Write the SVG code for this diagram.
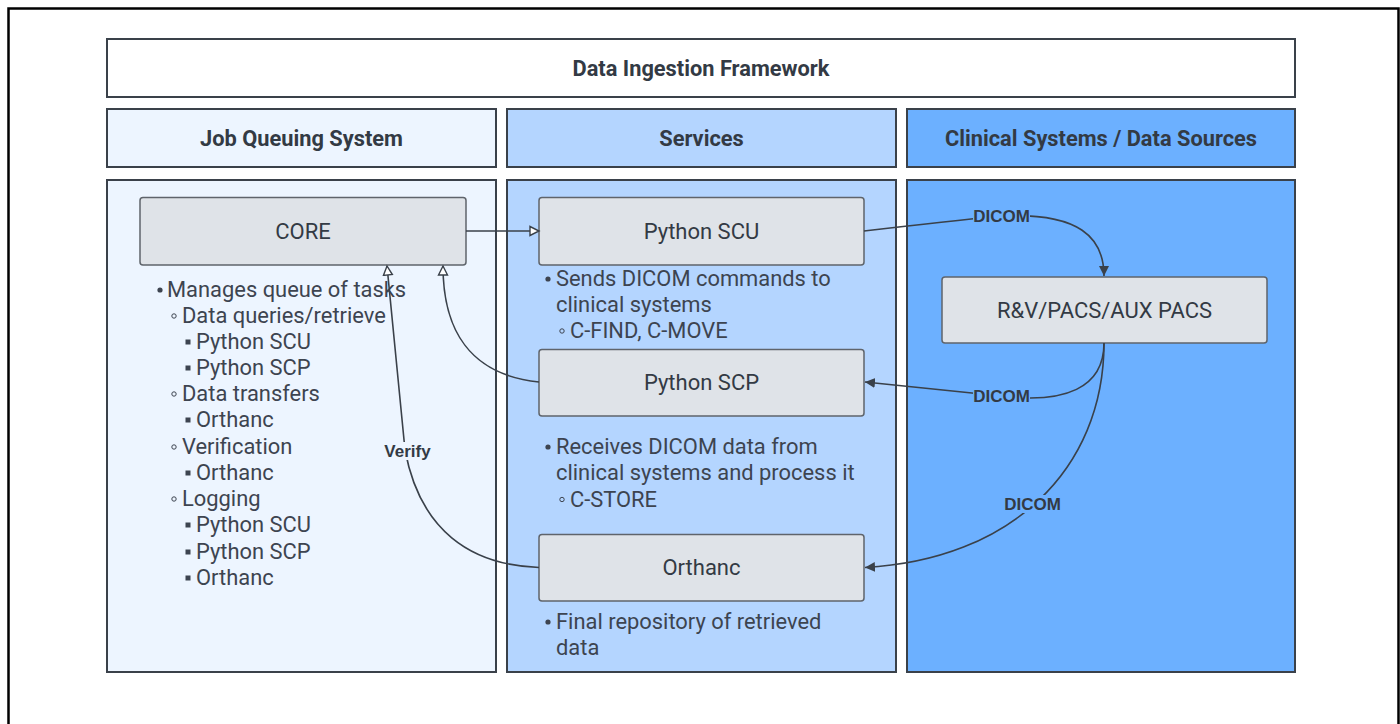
<svg xmlns="http://www.w3.org/2000/svg" width="1400" height="724" viewBox="0 0 1400 724">
<defs>
<style>
.hdr{font-family:Roboto,"Liberation Sans",sans-serif;font-weight:bold;font-size:21.8px;fill:#333a44;text-anchor:middle;dominant-baseline:central}
.lbl{font-family:Roboto,"Liberation Sans",sans-serif;font-size:22px;fill:#333a44;text-anchor:middle;dominant-baseline:central}
.txt{font-family:Roboto,"Liberation Sans",sans-serif;font-size:21.9px;fill:#3d4450}
.elb{font-family:"Liberation Sans",Arial,sans-serif;font-weight:bold;font-size:17px;fill:#333a44;text-anchor:middle;dominant-baseline:central}
.node{fill:#dfe3e8;stroke:#5f646b;stroke-width:1.5}
.col{stroke:#3a414a;stroke-width:2}
.edge{fill:none;stroke:#3a414a;stroke-width:1.6}
.b1{fill:#3d4450}
.b2{fill:none;stroke:#3d4450;stroke-width:1}
.b3{fill:#3d4450}
</style>
<marker id="hollow" markerUnits="userSpaceOnUse" markerWidth="12" markerHeight="12" refX="10" refY="5" viewBox="0 0 12 10" orient="auto">
<path d="M1,0.5 L10,5 L1,9.5 z" fill="#ffffff" stroke="#3a414a" stroke-width="1.4"/>
</marker>
<marker id="solid" markerUnits="userSpaceOnUse" markerWidth="12" markerHeight="12" refX="10" refY="5" viewBox="0 0 12 10" orient="auto">
<path d="M0,0 L10,5 L0,10 z" fill="#3a414a"/>
</marker>
</defs>
<rect x="8.5" y="8.5" width="1390" height="730" fill="#ffffff" stroke="#000000" stroke-width="2.5"/>

<g id="title">
<rect x="107" y="39" width="1188" height="58" fill="#ffffff" class="col"/>
<text class="hdr" x="701" y="68">Data Ingestion Framework</text>
</g>

<g id="lane-job">
<rect x="107" y="109" width="389" height="58" fill="#edf5ff" class="col"/>
<text class="hdr" x="301.5" y="138">Job Queuing System</text>
<rect x="107" y="180" width="389" height="492" fill="#edf5ff" class="col"/>
</g>
<g id="lane-services">
<rect x="507" y="109" width="389" height="58" fill="#b4d5ff" class="col"/>
<text class="hdr" x="701.5" y="138">Services</text>
<rect x="507" y="180" width="389" height="492" fill="#b4d5ff" class="col"/>
</g>
<g id="lane-clinical">
<rect x="907" y="109" width="388" height="58" fill="#6cb0ff" class="col"/>
<text class="hdr" x="1101" y="138">Clinical Systems / Data Sources</text>
<rect x="907" y="180" width="388" height="492" fill="#6cb0ff" class="col"/>
</g>

<g id="core">
<rect class="node" x="140" y="197.5" width="326" height="67.5" rx="3"/>
<text class="lbl" x="303" y="231">CORE</text>
</g>
<g id="core-notes">
<circle class="b1" cx="160" cy="290" r="2.6"/>
<text class="txt" x="167" y="297">Manages queue of tasks</text>
<circle class="b2" cx="174" cy="316" r="2.2"/>
<text class="txt" x="182" y="323">Data queries/retrieve</text>
<rect class="b3" x="185.5" y="339.5" width="5" height="5"/>
<text class="txt" x="196" y="349">Python SCU</text>
<rect class="b3" x="185.5" y="365.5" width="5" height="5"/>
<text class="txt" x="196" y="375">Python SCP</text>
<circle class="b2" cx="174" cy="394" r="2.2"/>
<text class="txt" x="182" y="401">Data transfers</text>
<rect class="b3" x="185.5" y="417.5" width="5" height="5"/>
<text class="txt" x="196" y="427">Orthanc</text>
<circle class="b2" cx="174" cy="447" r="2.2"/>
<text class="txt" x="182" y="454">Verification</text>
<rect class="b3" x="185.5" y="470.5" width="5" height="5"/>
<text class="txt" x="196" y="480">Orthanc</text>
<circle class="b2" cx="174" cy="499" r="2.2"/>
<text class="txt" x="182" y="506">Logging</text>
<rect class="b3" x="185.5" y="522.5" width="5" height="5"/>
<text class="txt" x="196" y="532">Python SCU</text>
<rect class="b3" x="185.5" y="549.5" width="5" height="5"/>
<text class="txt" x="196" y="559">Python SCP</text>
<rect class="b3" x="185.5" y="575.5" width="5" height="5"/>
<text class="txt" x="196" y="585">Orthanc</text>
</g>

<g id="python-scu">
<rect class="node" x="539" y="197.5" width="325" height="67.5" rx="3"/>
<text class="lbl" x="701.5" y="231">Python SCU</text>
</g>
<g id="python-scu-notes">
<circle class="b1" cx="548" cy="279" r="2.6"/>
<text class="txt" x="556" y="286">Sends DICOM commands to</text>
<text class="txt" x="556" y="312">clinical systems</text>
<circle class="b2" cx="562" cy="331" r="2.2"/>
<text class="txt" x="570" y="338">C-FIND, C-MOVE</text>
</g>

<g id="python-scp">
<rect class="node" x="539" y="349.5" width="325" height="66.5" rx="3"/>
<text class="lbl" x="701.5" y="382.5">Python SCP</text>
</g>
<g id="python-scp-notes">
<circle class="b1" cx="548" cy="447" r="2.6"/>
<text class="txt" x="556" y="454">Receives DICOM data from</text>
<text class="txt" x="556" y="480">clinical systems and process it</text>
<circle class="b2" cx="562" cy="499.5" r="2.2"/>
<text class="txt" x="570" y="506.5">C-STORE</text>
</g>

<g id="orthanc">
<rect class="node" x="539" y="534.5" width="325" height="66.5" rx="3"/>
<text class="lbl" x="701.5" y="567.5">Orthanc</text>
</g>
<g id="orthanc-notes">
<circle class="b1" cx="548" cy="622" r="2.6"/>
<text class="txt" x="556" y="629">Final repository of retrieved</text>
<text class="txt" x="556" y="655">data</text>
</g>

<g id="pacs">
<rect class="node" x="942" y="277" width="325" height="66" rx="3"/>
<text class="lbl" x="1104.5" y="310">R&amp;V/PACS/AUX PACS</text>
</g>

<g id="connectors">
<path class="edge" d="M466,231 L539,231" marker-end="url(#hollow)"/>
<path class="edge" d="M864,231 Q950,221 1001,216 C1080,212 1104,238 1104,276" marker-end="url(#solid)"/>
<path class="edge" d="M1104,343 C1104,388 1065,404 1001,396 L865,382" marker-end="url(#solid)"/>
<path class="edge" d="M1104,343 C1104,470 1010,560 865,567.5" marker-end="url(#solid)"/>
<path class="edge" d="M539,382 C470,375 443,330 443,266" marker-end="url(#hollow)"/>
<path class="edge" d="M539,567.5 C470,565 420,530 405,450 L387,266" marker-end="url(#hollow)"/>
<rect x="973" y="207" width="57" height="18" fill="#6cb0ff"/>
<text class="elb" x="1001.5" y="216">DICOM</text>
<rect x="973" y="387" width="57" height="18" fill="#6cb0ff"/>
<text class="elb" x="1001.5" y="396">DICOM</text>
<rect x="1004" y="495" width="57" height="18" fill="#6cb0ff"/>
<text class="elb" x="1032.5" y="504">DICOM</text>
<rect x="384" y="442" width="47" height="18" fill="#edf5ff"/>
<text class="elb" x="407.5" y="451">Verify</text>
</g>
</svg>
